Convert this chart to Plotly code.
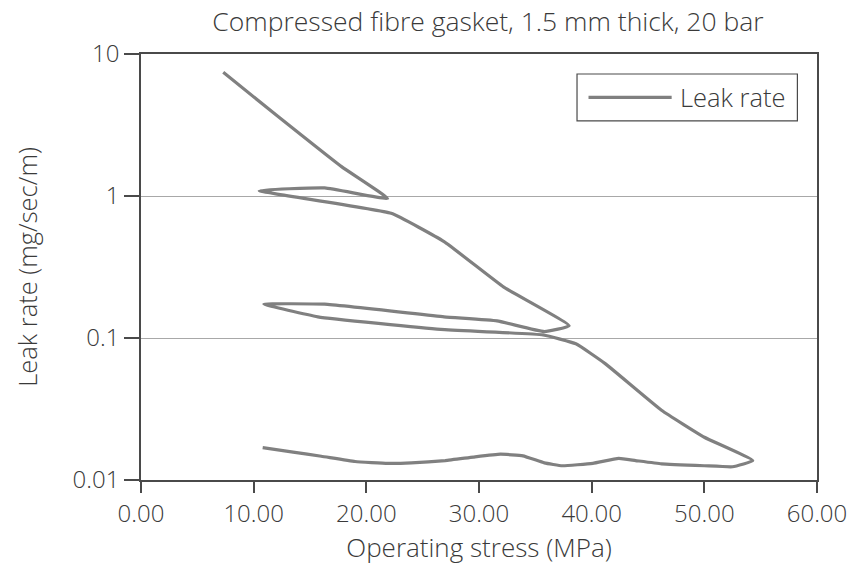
import plotly.graph_objects as go

# Leak rate of a compressed fibre gasket traced through load / unload cycles
stress_mpa = [
    7.3, 12.0, 17.8, 21.9,            # first loading to ~22 MPa
    16.3, 10.5,                        # unload
    22.2, 26.9, 32.2, 38.0,            # reload to ~38 MPa
    35.8, 31.6, 26.9, 16.3, 10.9,      # unload
    15.7, 26.6, 35.7, 38.6, 41.2, 46.2, 50.0, 54.3,  # reload to ~54 MPa
    52.5, 50.0, 46.2, 43.9, 42.4, 40.1, 37.4, 35.8, 33.9, 31.9,
    29.5, 27.0, 24.0, 21.9, 19.0, 16.0, 13.5, 10.8,  # final unload
]
leak_rate = [
    7.43, 3.72, 1.61, 0.96,
    1.14, 1.09,
    0.755, 0.477, 0.228, 0.122,
    0.111, 0.132, 0.141, 0.173, 0.173,
    0.141, 0.115, 0.105, 0.091, 0.066, 0.031, 0.020, 0.0137,
    0.0124, 0.0126, 0.0130, 0.0137, 0.0142, 0.0131, 0.0126, 0.0132, 0.0148, 0.0152,
    0.0145, 0.0137, 0.0132, 0.0131, 0.0135, 0.0147, 0.0157, 0.0169,
]

x_ticks = [0, 10, 20, 30, 40, 50, 60]
y_ticks = [0.01, 0.1, 1, 10]
y_tick_text = ["0.01", "0.1", "1", "10"]
series_name = "Leak rate"

FONT = "Open Sans"
TEXT = "#3a3a3a"
AXIS = "#4a4a4a"
LINE = "#808080"


def font(size):
    return dict(family=FONT, size=size, color=TEXT, weight=300)


fig = go.Figure()
fig.add_trace(go.Scatter(
    x=stress_mpa, y=leak_rate, mode="lines", name=series_name,
    line=dict(color=LINE, width=3.2, shape="spline", smoothing=0.35),
    showlegend=False,
))

# boxed key in the upper right of the plot area
fig.add_shape(type="rect", xref="paper", yref="paper",
              x0=0.645, x1=0.971, y0=0.843, y1=0.953,
              line=dict(color=AXIS, width=1.2), fillcolor="white")
fig.add_shape(type="line", xref="paper", yref="paper",
              x0=0.662, x1=0.785, y0=0.898, y1=0.898,
              line=dict(color=LINE, width=3.2))
fig.add_annotation(text=series_name, xref="paper", yref="paper",
                   x=0.795, y=0.898, xanchor="left", yanchor="middle",
                   showarrow=False, font=font(25.5))

fig.update_layout(
    width=859, height=566,
    margin=dict(l=141, r=36, t=54, b=86),
    paper_bgcolor="white", plot_bgcolor="white",
    font=font(22),
    title=dict(
        text="Compressed fibre gasket, 1.5 mm thick, 20 bar",
        x=0.568, xanchor="center", y=0.962, yanchor="middle",
        font=font(26.5),
    ),
)

fig.update_xaxes(
    range=[0, 60], tickvals=x_ticks, tickformat=".2f",
    ticks="outside", ticklen=11, tickwidth=1.5, tickcolor=AXIS,
    showline=True, linecolor=AXIS, linewidth=1.5, mirror=True,
    showgrid=False, zeroline=False,
    tickfont=font(24),
    title=dict(text="Operating stress (MPa)", standoff=6, font=font(26)),
)
fig.update_yaxes(
    type="log", range=[-2, 1], tickvals=y_ticks, ticktext=y_tick_text,
    ticks="outside", ticklen=15, tickwidth=1.5, tickcolor=AXIS,
    showline=True, linecolor=AXIS, linewidth=1.5, mirror=True,
    showgrid=True, gridcolor="#a8a8a8", gridwidth=1.2,
    tickfont=font(24),
    title=dict(text="Leak rate (mg/sec/m)", standoff=28, font=font(25.5)),
)

fig.write_html("out.html")
